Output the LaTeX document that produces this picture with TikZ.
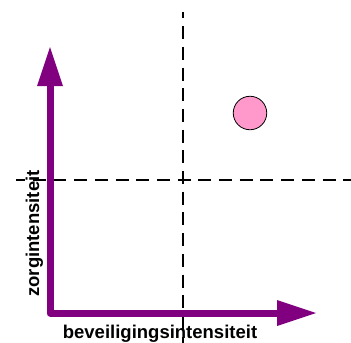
\documentclass[tikz,border=0pt]{standalone}
\usepackage{fontspec}
\setmainfont{Liberation Sans}
\usetikzlibrary{arrows.meta}
\definecolor{axispurple}{HTML}{800080}
\definecolor{dotpink}{HTML}{FF99CC}
\tikzset{
  guide/.style={draw=black, line width=1.4bp, dash pattern=on 13bp off 7.7bp},
  axisline/.style={draw=axispurple, line width=7bp, line join=round},
  axishead/.style={fill=axispurple, draw=none},
  axislabel/.style={font=\fontsize{18.5bp}{20bp}\selectfont\bfseries, inner sep=0pt},
  dot/.style={circle, draw=black, line width=0.8bp, fill=dotpink, minimum size=33.5bp, inner sep=0pt}
}
\begin{document}
\begin{tikzpicture}[x=1bp, y=-1bp]
\useasboundingbox (0,0) rectangle (351,343);
% guide lines
\coordinate (vtop) at (183,12);
\coordinate (vbot) at (183,343);
\coordinate (hleft) at (16,180);
\coordinate (hright) at (351,180);
\draw[guide, dash phase=6.6bp] (vtop) -- (vbot);
\draw[guide, dash phase=4bp] (hleft) -- (hright);
% axes
\coordinate (ybase) at (50,86);
\coordinate (ytip) at (50,47);
\coordinate (origin) at (50,313);
\coordinate (xbase) at (277,313);
\coordinate (xtip) at (316,313);
\draw[axisline] (ybase) -- (origin) -- (xbase);
\fill[axishead] (ytip) -- (37,86) -- (63,86) -- cycle;
\fill[axishead] (xtip) -- (277,300) -- (277,326) -- cycle;
% dot
\node[dot] (d) at (250,113) {};
% labels
\node[axislabel, rotate=90, anchor=base] (ylab) at (39,233.5) {zorgintensiteit};
\node[axislabel, anchor=base] (xlab) at (160,338) {beveiligingsintensiteit};
\end{tikzpicture}
\end{document}
